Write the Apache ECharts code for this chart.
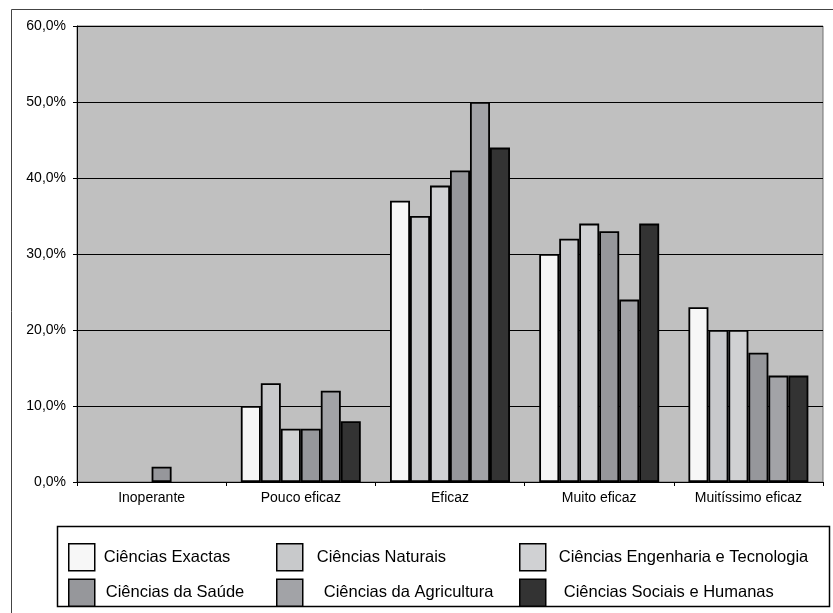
<!DOCTYPE html>
<html>
<head>
<meta charset="utf-8">
<style>
  html, body { margin: 0; padding: 0; background: #ffffff; }
  #chart { width: 833px; height: 613px; }
</style>
<script src="https://cdn.jsdelivr.net/npm/echarts@6/dist/echarts.min.js"></script>
</head>
<body>
<div id="chart"></div>
<script>
// Categories on the horizontal axis
const categories = ['Inoperante', 'Pouco eficaz', 'Eficaz', 'Muito eficaz', 'Muitíssimo eficaz'];

// Percentages per scientific area
const exactas     = [0, 10, 37, 30, 23];
const naturais    = [0, 13, 35, 32, 20];
const engenharia  = [0, 7, 39, 34, 20];
const saude       = [2, 7, 41, 33, 17];
const agricultura = [0, 12, 50, 24, 14];
const sociais     = [0, 8, 44, 34, 14];

const seriesNames = [
  'Ciências Exactas',
  'Ciências Naturais',
  'Ciências Engenharia e Tecnologia',
  'Ciências da Saúde',
  'Ciências da Agricultura',
  'Ciências Sociais e Humanas'
];
const seriesData = [exactas, naturais, engenharia, saude, agricultura, sociais];
const seriesColors = ['#f7f7f7', '#c8c9cb', '#d0d1d3', '#96979b', '#a2a3a7', '#333333'];

const FONT = '"Liberation Sans", Arial, Helvetica, sans-serif';

const chart = echarts.init(document.getElementById('chart'), null, { renderer: 'canvas' });

function legendColumn(left, names, pads) {
  return {
    orient: 'vertical',
    left: left,
    top: 538,
    itemWidth: 26,
    itemHeight: 27,
    itemGap: 7,
    icon: 'rect',
    selectedMode: false,
    itemStyle: { borderColor: '#000', borderWidth: 1.5 },
    textStyle: { fontFamily: FONT, fontSize: 16.5, color: '#000' },
    data: names.map((n, i) => ({ name: n, textStyle: { padding: [0, 0, 0, pads[i]] } }))
  };
}

// A zero share draws no outline at all
function barItems(values) {
  return values.map(v => v === 0 ? { value: v, itemStyle: { borderWidth: 0, opacity: 0 } } : v);
}

const option = {
  animation: false,
  backgroundColor: '#ffffff',
  grid: {
    left: 77, right: 10, top: 26, bottom: 131,
    show: true,
    backgroundColor: '#c0c0c0',
    borderColor: '#707070',
    borderWidth: 1
  },
  xAxis: {
    type: 'category',
    data: categories,
    axisLine: { lineStyle: { color: '#000', width: 1 } },
    axisTick: { show: true, length: 4, lineStyle: { color: '#000' } },
    axisLabel: { fontFamily: FONT, fontSize: 14, color: '#000', margin: 9 }
  },
  yAxis: {
    type: 'value',
    min: 0, max: 60, interval: 10,
    axisLine: { show: true, lineStyle: { color: '#000', width: 1 } },
    axisTick: { show: true, length: 4, lineStyle: { color: '#000' } },
    splitLine: { lineStyle: { color: '#000', width: 1 } },
    axisLabel: {
      fontFamily: FONT, fontSize: 14, color: '#000', margin: 11,
      formatter: v => v.toFixed(1).replace('.', ',') + '%'
    }
  },
  legend: [
    legendColumn(63, [seriesNames[0], seriesNames[3]], [4, 6]),
    legendColumn(271, [seriesNames[1], seriesNames[4]], [9, 16]),
    legendColumn(514, [seriesNames[2], seriesNames[5]], [8, 13])
  ],
  graphic: [
    {
      type: 'rect', silent: true, z: -1,
      shape: { x: 11.5, y: 9.5, width: 840, height: 620 },
      style: { fill: 'none', stroke: '#444', lineWidth: 1 }
    },
    {
      type: 'rect', silent: true,
      shape: { x: 57.5, y: 526.5, width: 772, height: 80 },
      style: { fill: 'none', stroke: '#000', lineWidth: 1.5 }
    }
  ],
  series: seriesNames.map((name, i) => ({
    name: name,
    type: 'bar',
    data: barItems(seriesData[i]),
    barGap: '0%',
    barCategoryGap: '19.6%',
    itemStyle: { color: seriesColors[i], borderColor: '#000', borderWidth: 1.8 }
  }))
};

chart.setOption(option);
</script>
</body>
</html>
